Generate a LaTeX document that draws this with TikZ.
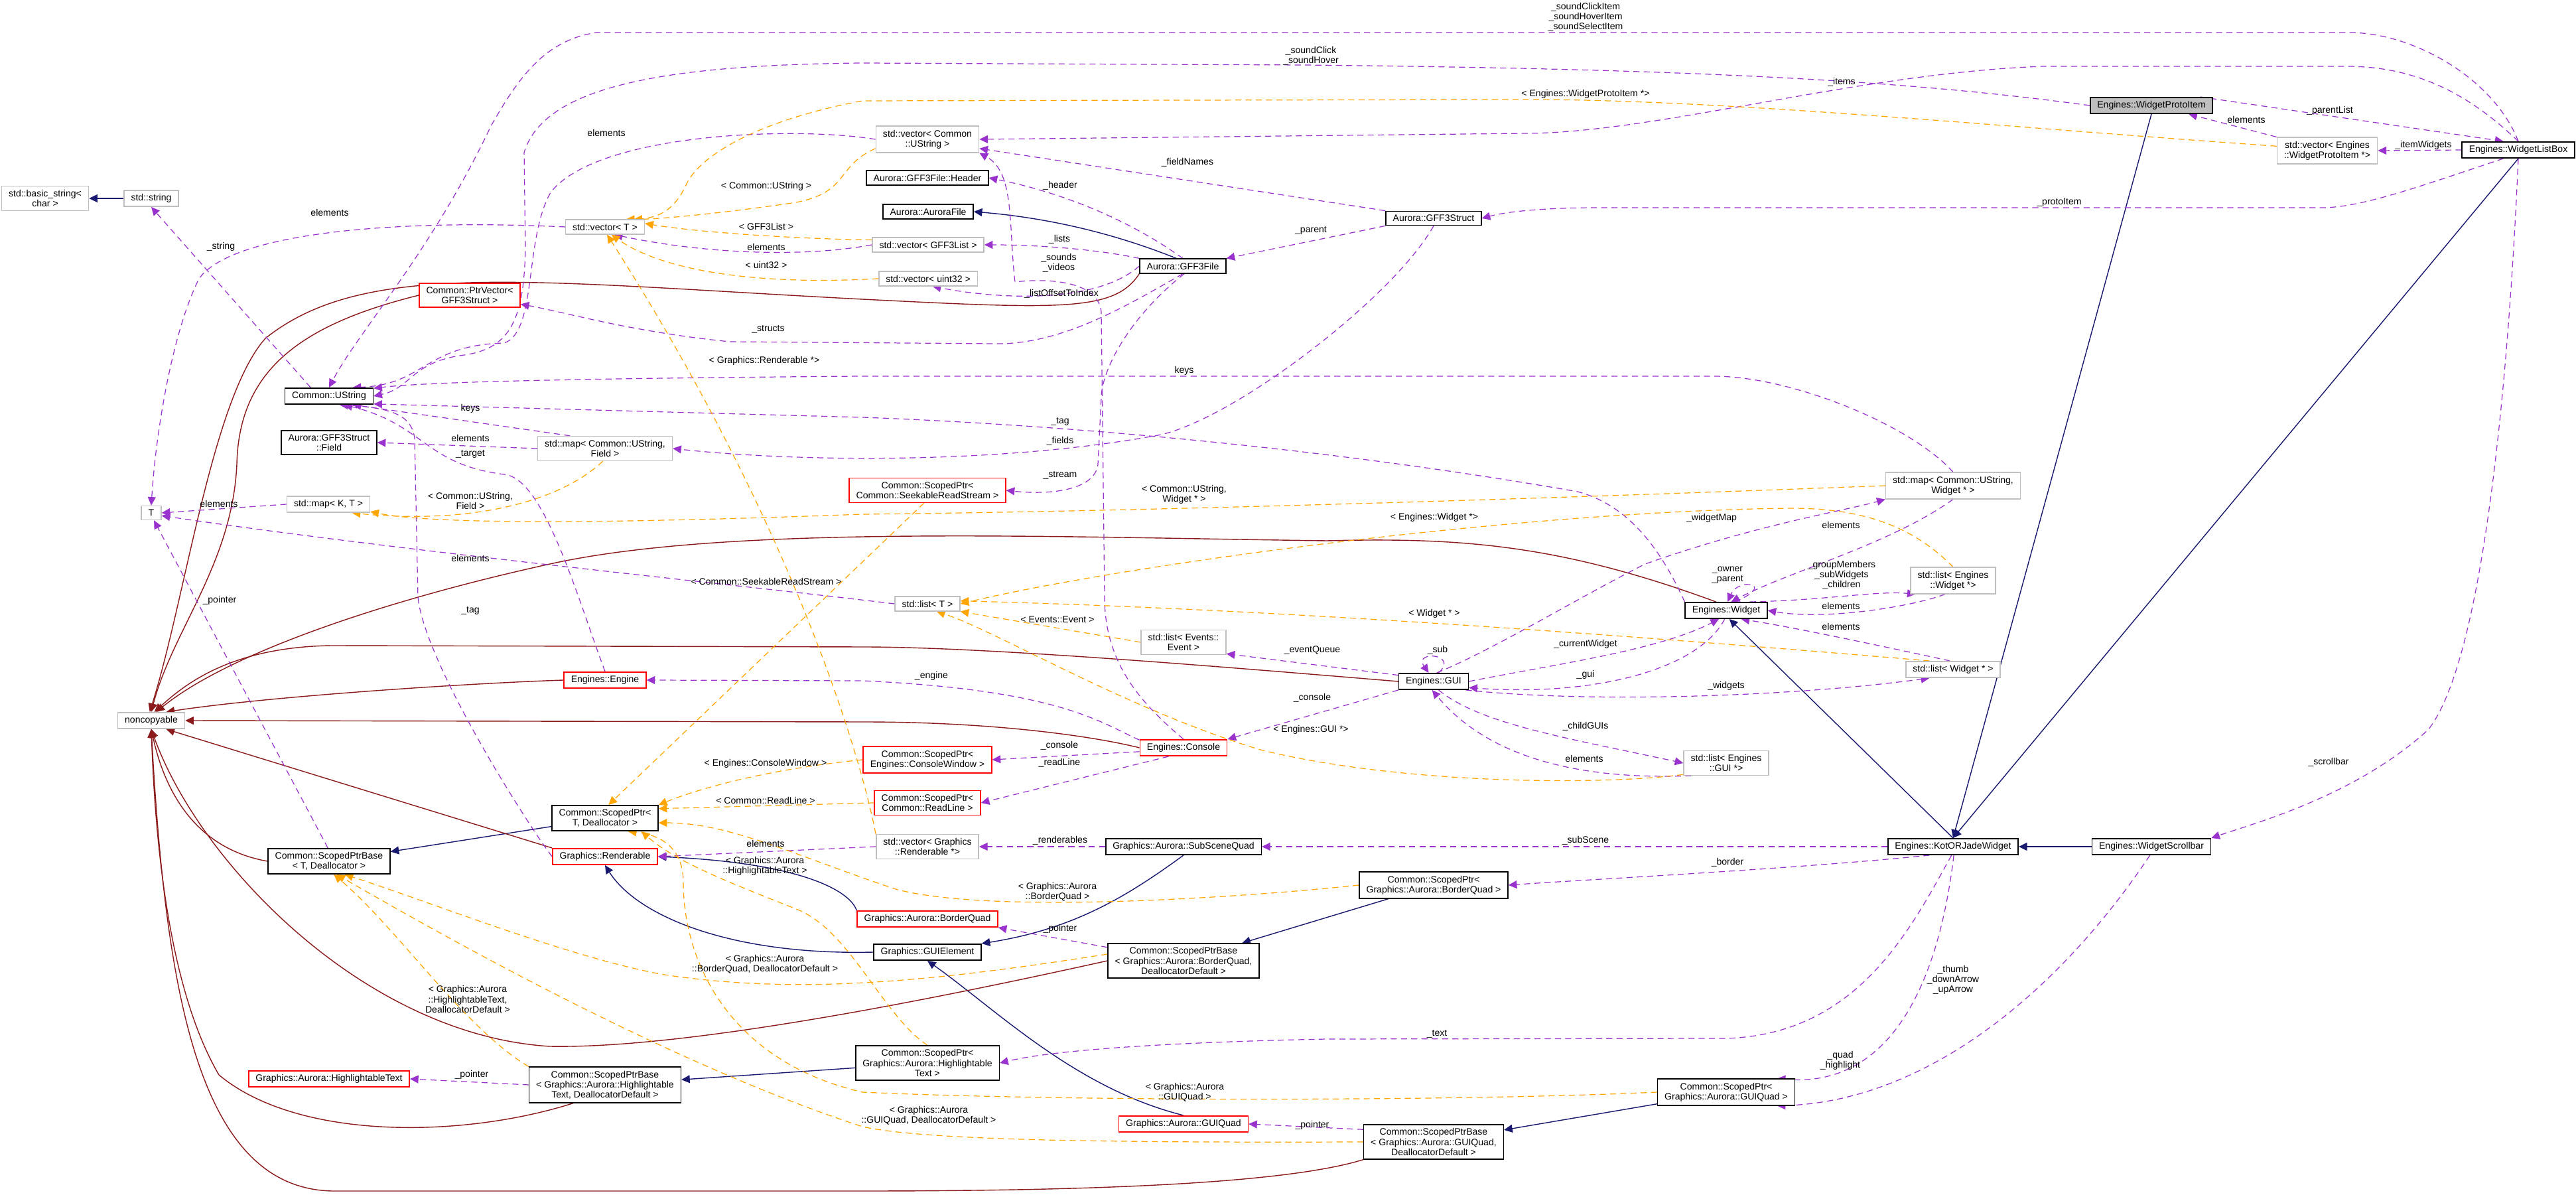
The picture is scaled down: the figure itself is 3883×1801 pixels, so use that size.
\documentclass[tikz,border=0pt]{standalone}
\usepackage{fontspec}
\setmainfont{Liberation Sans}
\usepackage{tikz}
\usetikzlibrary{arrows.meta}

\definecolor{memc}{HTML}{9A32CD}
\definecolor{tplc}{HTML}{FFA500}
\definecolor{ncpc}{HTML}{8B1A1A}
\definecolor{inhc}{HTML}{191970}
\definecolor{boxgray}{HTML}{BFBFBF}

\pgfdeclarelayer{background}
\pgfsetlayers{background,main}

\tikzset{
  box/.style={draw, line width=0.45pt, align=center, inner xsep=3pt, inner ysep=1.6pt, fill=white},
  cls/.style={box, draw=black},
  rcls/.style={box, draw=red},
  gcls/.style={box, draw=boxgray},
  tip/.style={-{Triangle[length=3.6pt,width=3.4pt]}},
  mem/.style={tip, draw=memc, line width=0.35pt, dash pattern=on 2.6pt off 1.8pt},
  tpl/.style={tip, draw=tplc, line width=0.35pt, dash pattern=on 2.6pt off 1.8pt},
  ncp/.style={tip, draw=ncpc, line width=0.4pt},
  inh/.style={tip, draw=inhc, line width=0.4pt},
  lbl/.style={inner sep=0pt, align=center}
}

\begin{document}
\begin{tikzpicture}[x=0.01cm, y=0.01cm, font=\fontsize{4}{4.3}\selectfont]
    \useasboundingbox (0,0) rectangle (3883,-1801);

    % Classes
    \node[gcls] (bstr) at (68,-299) {std::basic\_string\textless\\char \textgreater};
    \node[gcls] (sstr) at (228,-299) {std::string};
    \node[cls] (ustr) at (496,-597) {Common::UString};
    \node[gcls] (vect) at (912,-342) {std::vector\textless{} T \textgreater};
    \node[rcls] (ptrvec) at (708,-445) {Common::PtrVector\textless\\GFF3Struct \textgreater};
    \node[cls] (field) at (496,-667) {Aurora::GFF3Struct\\::Field};
    \node[gcls] (mapuf) at (912,-676) {std::map\textless{} Common::UString,\\Field \textgreater};
    \node[gcls] (mapkt) at (495,-760) {std::map\textless{} K, T \textgreater};
    \node[gcls] (tt) at (228,-773) {T};
    \node[rcls] (seekptr) at (1398,-739) {Common::ScopedPtr\textless\\Common::SeekableReadStream \textgreater};
    \node[gcls] (vecustr) at (1398,-210) {std::vector\textless{} Common\\::UString \textgreater};
    \node[cls] (header) at (1398,-268) {Aurora::GFF3File::Header};
    \node[cls] (aurfile) at (1399,-319) {Aurora::AuroraFile};
    \node[gcls] (veclist) at (1399,-369) {std::vector\textless{} GFF3List \textgreater};
    \node[gcls] (vecu32) at (1399,-420) {std::vector\textless{} uint32 \textgreater};
    \node[cls] (gfffile) at (1783,-401) {Aurora::GFF3File};
    \node[cls] (gffstruct) at (2161,-329) {Aurora::GFF3Struct};
    \node[cls, fill=boxgray] (protoitem) at (3243,-159) {Engines::WidgetProtoItem};
    \node[gcls] (vecproto) at (3508,-227) {std::vector\textless{} Engines\\::WidgetProtoItem *\textgreater};
    \node[cls] (listbox) at (3796,-226) {Engines::WidgetListBox};
    \node[gcls] (mapuw) at (2944,-732) {std::map\textless{} Common::UString,\\Widget * \textgreater};
    \node[gcls] (listew) at (2944,-875) {std::list\textless{} Engines\\::Widget *\textgreater};
    \node[gcls] (noncop) at (228,-1086) {noncopyable};
    \node[rcls] (engine) at (912,-1025) {Engines::Engine};
    \node[cls] (sptr) at (912,-1233) {Common::ScopedPtr\textless\\T, Deallocator \textgreater};
    \node[cls] (sptrbase) at (496,-1298) {Common::ScopedPtrBase\\\textless{} T, Deallocator \textgreater};
    \node[rcls] (rend) at (912,-1291) {Graphics::Renderable};
    \node[rcls] (hltext) at (496,-1626) {Graphics::Aurora::HighlightableText};
    \node[cls] (spbhl) at (912,-1635) {Common::ScopedPtrBase\\\textless{} Graphics::Aurora::Highlightable\\Text, DeallocatorDefault \textgreater};
    \node[gcls] (listt) at (1398,-910) {std::list\textless{} T \textgreater};
    \node[gcls] (listev) at (1784,-968) {std::list\textless{} Events::\\Event \textgreater};
    \node[cls] (gui) at (2161,-1027) {Engines::GUI};
    \node[cls] (widget) at (2602,-920) {Engines::Widget};
    \node[rcls] (console) at (1784,-1127) {Engines::Console};
    \node[rcls] (spcw) at (1398,-1145) {Common::ScopedPtr\textless\\Engines::ConsoleWindow \textgreater};
    \node[rcls] (sprl) at (1398,-1210) {Common::ScopedPtr\textless\\Common::ReadLine \textgreater};
    \node[gcls] (listgui) at (2602,-1150) {std::list\textless{} Engines\\::GUI *\textgreater};
    \node[gcls] (listw) at (2944,-1009) {std::list\textless{} Widget * \textgreater};
    \node[gcls] (vecrend) at (1398,-1276) {std::vector\textless{} Graphics\\::Renderable *\textgreater};
    \node[cls] (subscene) at (1784,-1276) {Graphics::Aurora::SubSceneQuad};
    \node[cls] (spbq) at (2161,-1334) {Common::ScopedPtr\textless\\Graphics::Aurora::BorderQuad \textgreater};
    \node[rcls] (bquad) at (1398,-1385) {Graphics::Aurora::BorderQuad};
    \node[cls] (guiel) at (1398,-1435) {Graphics::GUIElement};
    \node[cls] (spbbq) at (1784,-1448) {Common::ScopedPtrBase\\\textless{} Graphics::Aurora::BorderQuad,\\DeallocatorDefault \textgreater};
    \node[cls] (sphl) at (1398,-1602) {Common::ScopedPtr\textless\\Graphics::Aurora::Highlightable\\Text \textgreater};
    \node[rcls] (guiquad) at (1784,-1694) {Graphics::Aurora::GUIQuad};
    \node[cls] (spbgq) at (2161,-1721) {Common::ScopedPtrBase\\\textless{} Graphics::Aurora::GUIQuad,\\DeallocatorDefault \textgreater};
    \node[cls] (spgq) at (2602,-1646) {Common::ScopedPtr\textless\\Graphics::Aurora::GUIQuad \textgreater};
    \node[cls] (kjw) at (2944,-1276) {Engines::KotORJadeWidget};
    \node[cls] (scroll) at (3243,-1276) {Engines::WidgetScrollbar};

    \begin{pgfonlayer}{background}
    % Inheritance
    \draw[inh] (sstr) -- (bstr);
    \draw[inh] (gfffile.130) .. controls (1700,-360) and (1600,-330) .. (aurfile.east);
    \draw[inh] (sptr) -- (sptrbase);
    \draw[inh] (bquad.north west) .. controls (1280,-1340) and (1200,-1300) .. (rend.east);
    \draw[inh] (guiel.west) .. controls (1100,-1440) and (960,-1380) .. (rend.south);
    \draw[inh] (subscene.south) .. controls (1700,-1350) and (1620,-1400) .. (guiel.north east);
    \draw[inh] (spbq) -- (spbbq);
    \draw[inh] (guiquad.north) .. controls (1620,-1640) and (1500,-1520) .. (guiel.south);
    \draw[inh] (sphl) -- (spbhl);
    \draw[inh] (spgq) -- (spbgq);
    \draw[inh] (kjw.north) -- (widget.-70);
    \draw[inh] (protoitem.south) -- (kjw.north);
    \draw[inh] (listbox.south) -- (kjw.north);
    \draw[inh] (scroll) -- (kjw);

    % noncopyable
    \draw[ncp] (ptrvec.west) .. controls (450,-490) and (360,-560) .. (357,-700) .. controls (350,-850) and (260,-950) .. (noncop.north);
    \draw[ncp] (gfffile.south west) .. controls (1680,-470) and (1600,-466) .. (1300,-451) .. controls (800,-425) and (550,-390) .. (400,-510) .. controls (320,-600) and (280,-900) .. (noncop.100);
    \draw[ncp] (widget.140) .. controls (2350,-820) and (2200,-810) .. (2000,-815) .. controls (1600,-810) and (1100,-790) .. (829,-850) .. controls (600,-900) and (350,-980) .. (noncop.60);
    \draw[ncp] (gui.west) .. controls (1900,-1010) and (1500,-975) .. (1300,-975) -- (500,-973) .. controls (350,-975) and (280,-1030) .. (noncop.70);
    \draw[ncp] (engine.west) .. controls (700,-1030) and (400,-1050) .. (noncop.30);
    \draw[ncp] (console.west) .. controls (1650,-1110) and (1500,-1088) .. (1300,-1088) -- (noncop.east);
    \draw[ncp] (rend.north west) -- (noncop.-30);
    \draw[ncp] (sptrbase.west) .. controls (300,-1280) and (250,-1200) .. (noncop.south);
    \draw[ncp] (spbbq.west) .. controls (1300,-1530) and (1000,-1580) .. (829,-1577) .. controls (550,-1560) and (300,-1300) .. (noncop.south);
    \draw[ncp] (spbhl.-150) .. controls (700,-1715) and (450,-1720) .. (330,-1620) .. controls (260,-1500) and (235,-1300) .. (noncop.south);
    \draw[ncp] (spbgq.south west) .. controls (1950,-1780) and (1700,-1795) .. (1300,-1795) -- (500,-1795) .. controls (300,-1790) and (250,-1500) .. (noncop.south);

    % Members
    \draw[mem] (vect.west) .. controls (600,-330) and (350,-350) .. (300,-420) .. controls (260,-500) and (235,-650) .. (tt.north);
    \draw[mem] (ustr.155) -- (sstr.south);
    \draw[mem] (listbox.north) .. controls (3760,-120) and (3640,-49) .. (3540,-49) -- (900,-49) .. controls (820,-60) and (780,-120) .. (740,-190) .. controls (650,-380) and (540,-500) .. (ustr.north);
    \draw[mem] (protoitem.west) .. controls (2900,-125) and (2600,-104) .. (1963,-98) -- (1300,-95) .. controls (1000,-98) and (820,-130) .. (790,-230) -- (792,-373) .. controls (790,-480) and (770,-525) .. (700,-535) .. controls (620,-545) and (620,-585) .. (ustr.east);
    \draw[mem] (listbox.north) .. controls (3720,-140) and (3640,-100) .. (3537,-100) -- (3080,-100) .. controls (2800,-110) and (2500,-200) .. (2300,-201) -- (vecustr.east);
    \draw[mem] (vecustr.west) .. controls (1200,-190) and (900,-200) .. (830,-290) .. controls (790,-360) and (810,-500) .. (760,-517) .. controls (640,-520) and (640,-580) .. (ustr.20);
    \draw[mem] (gffstruct.north west) -- (vecustr.-10);
    \draw[mem] (gffstruct.south west) -- (gfffile.north east);
    \draw[mem] (gfffile.north) .. controls (1700,-330) and (1600,-290) .. (header.east);
    \draw[mem] (gfffile.north west) .. controls (1650,-375) and (1560,-369) .. (veclist.east);
    \draw[mem] (gfffile.west) .. controls (1650,-460) and (1500,-450) .. (vecu32.-60);
    \draw[mem] (console.north) .. controls (1720,-1060) and (1665,-1000) .. (1665,-900) -- (1660,-470) .. controls (1655,-420) and (1570,-420) .. (1530,-425) .. controls (1520,-340) and (1530,-260) .. (vecustr.south east);
    \draw[mem] (veclist.west) .. controls (1200,-390) and (1050,-380) .. (vect.-40);
    \draw[mem] (gfffile.south) .. controls (1700,-460) and (1600,-520) .. (1500,-518) -- (1100,-515) .. controls (950,-500) and (850,-470) .. (ptrvec.-10);
    \draw[mem] (widget.north west) .. controls (2500,-820) and (2450,-760) .. (2378,-741) .. controls (2000,-675) and (1600,-640) .. (1300,-629) -- (ustr.-10);
    \draw[mem] (mapuw.north) .. controls (2880,-640) and (2700,-567) .. (2583,-567) -- (1300,-567) .. controls (900,-570) and (650,-575) .. (ustr.10);
    \draw[mem] (gffstruct.south) .. controls (2100,-450) and (1850,-640) .. (1740,-657) .. controls (1500,-700) and (1200,-696) .. (mapuf.east);
    \draw[mem] (gfffile.-80) .. controls (1700,-480) and (1660,-560) .. (1660,-600) -- (1655,-700) .. controls (1650,-740) and (1580,-746) .. (seekptr.east);
    \draw[mem] (mapuf.160) -- (ustr.-20);
    \draw[mem] (mapuf.west) -- (field.east);
    \draw[mem] (engine.north) .. controls (870,-900) and (820,-720) .. (760,-715) .. controls (640,-700) and (640,-640) .. (ustr.-30);
    \draw[mem] (rend.west) .. controls (800,-1250) and (640,-1000) .. (630,-900) -- (625,-660) .. controls (620,-630) and (600,-615) .. (ustr.-40);
    \draw[mem] (mapkt.west) -- (tt.east);
    \draw[mem] (listt.west) .. controls (1100,-880) and (600,-830) .. (tt.-15);
    \draw[mem] (sptrbase.95) -- (tt.-70);
    \draw[mem] (gui.170) -- (listev.-15);
    \draw[mem] (gui.60) .. controls (2200,-985) and (2130,-980) .. (gui.120);
    \draw[mem] (gui.east) .. controls (2350,-1000) and (2500,-980) .. (widget.-130);
    \draw[mem] (widget.-100) .. controls (2560,-1010) and (2400,-1050) .. (gui.-10);
    \draw[mem] (gui.70) .. controls (2250,-980) and (2380,-900) .. (2480,-850) .. controls (2650,-790) and (2780,-770) .. (mapuw.south west);
    \draw[mem] (mapuw.south) .. controls (2850,-820) and (2700,-860) .. (widget.60);
    \draw[mem] (widget.45) .. controls (2680,-880) and (2620,-870) .. (widget.80);
    \draw[mem] (widget.20) .. controls (2750,-905) and (2830,-890) .. (listew.-160);
    \draw[mem] (listew.-120) .. controls (2880,-915) and (2750,-935) .. (widget.east);
    \draw[mem] (listw.110) .. controls (2820,-970) and (2700,-945) .. (widget.-30);
    \draw[mem] (gui.-15) .. controls (2400,-1060) and (2700,-1050) .. (listw.-160);
    \draw[mem] (gui.south west) -- (console.north east);
    \draw[mem] (console.170) .. controls (1660,-1090) and (1600,-1040) .. (1300,-1026) -- (engine.east);
    \draw[mem] (console.-175) -- (spcw.east);
    \draw[mem] (console.-150) -- (sprl.east);
    \draw[mem] (gui.-60) .. controls (2230,-1090) and (2350,-1110) .. (listgui.west);
    \draw[mem] (listgui.-160) .. controls (2400,-1175) and (2250,-1150) .. (gui.-100);
    \draw[mem] (kjw.west) -- (subscene.east);
    \draw[mem] (kjw.-160) .. controls (2700,-1310) and (2400,-1325) .. (spbq.east);
    \draw[mem] (kjw.-100) .. controls (2880,-1400) and (2800,-1560) .. (2600,-1565) -- (2000,-1566) .. controls (1800,-1570) and (1600,-1580) .. (sphl.east);
    \draw[mem] (kjw.-85) .. controls (2920,-1500) and (2840,-1640) .. (spgq.15);
    \draw[mem] (scroll.-100) .. controls (3100,-1500) and (2900,-1660) .. (spgq.-15);
    \draw[mem] (listbox.south) .. controls (3780,-600) and (3740,-1000) .. (3660,-1100) .. controls (3550,-1200) and (3400,-1240) .. (scroll.north east);
    \draw[mem] (subscene.west) -- (vecrend.east);
    \draw[mem] (vecrend.west) -- (rend.east);
    \draw[mem] (spbbq.170) -- (bquad.south east);
    \draw[mem] (spbgq.170) -- (guiquad.east);
    \draw[mem] (spbhl.west) -- (hltext.east);
    \draw[mem] (vecproto.north west) -- (protoitem.-13);
    \draw[mem] (protoitem.10) -- (listbox.150);
    \draw[mem] (listbox.west) -- (vecproto.east);
    \draw[mem] (listbox.-150) .. controls (3650,-280) and (3560,-313) .. (3500,-313) -- (2400,-313) .. controls (2300,-314) and (2260,-322) .. (gffstruct.east);

    % Templates
    \draw[tpl] (vecustr.-170) .. controls (1260,-250) and (1280,-290) .. (1200,-305) .. controls (1100,-320) and (1000,-330) .. (vect.15);
    \draw[tpl] (veclist.175) .. controls (1200,-360) and (1050,-350) .. (vect.5);
    \draw[tpl] (vecu32.west) .. controls (1150,-430) and (1000,-410) .. (vect.-50);
    \draw[tpl] (vecproto.175) .. controls (3000,-190) and (2600,-150) .. (2300,-150) -- (1300,-152) .. controls (1150,-180) and (1060,-230) .. (1036,-275) .. controls (1020,-310) and (1000,-330) .. (vect.20);
    \draw[tpl] (vecrend.north west) .. controls (1300,-1150) and (1200,-800) .. (vect.-75);
    \draw[tpl] (mapuf.-100) .. controls (840,-760) and (700,-790) .. (mapkt.-20);
    \draw[tpl] (mapuw.west) .. controls (2500,-745) and (1800,-770) .. (1300,-775) .. controls (900,-790) and (650,-790) .. (mapkt.-10);
    \draw[tpl] (listev.west) -- (listt.south east);
    \draw[tpl] (listew.north) .. controls (2890,-800) and (2820,-766) .. (2700,-766) .. controls (2300,-770) and (1700,-850) .. (listt.east);
    \draw[tpl] (listw.160) .. controls (2600,-970) and (2000,-920) .. (listt.5);
    \draw[tpl] (listgui.-165) .. controls (2400,-1185) and (2100,-1180) .. (1900,-1130) .. controls (1700,-1070) and (1500,-950) .. (listt.-40);
    \draw[tpl] (seekptr.-105) -- (sptr.75);
    \draw[tpl] (spcw.west) .. controls (1150,-1160) and (1050,-1190) .. (sptr.north east);
    \draw[tpl] (sprl.west) -- (sptr.10);
    \draw[tpl] (spbq.west) .. controls (1900,-1350) and (1500,-1380) .. (1350,-1340) .. controls (1200,-1290) and (1100,-1240) .. (sptr.-5);
    \draw[tpl] (sphl.north) .. controls (1330,-1530) and (1280,-1400) .. (1200,-1370) .. controls (1100,-1330) and (1020,-1300) .. (sptr.-20);
    \draw[tpl] (spgq.west) .. controls (2200,-1660) and (1600,-1660) .. (1300,-1646) .. controls (1100,-1600) and (1030,-1450) .. (1030,-1330) .. controls (1030,-1290) and (1010,-1260) .. (sptr.-30);
    \draw[tpl] (spbbq.175) .. controls (1400,-1480) and (1200,-1500) .. (995,-1468) .. controls (850,-1440) and (650,-1360) .. (sptrbase.-40);
    \draw[tpl] (spbhl.north west) .. controls (700,-1550) and (600,-1400) .. (sptrbase.-70);
    \draw[tpl] (spbgq.west) .. controls (1700,-1722) and (1400,-1720) .. (1300,-1698) .. controls (1000,-1600) and (650,-1400) .. (sptrbase.-60);
    \end{pgfonlayer}

    % Edge labels
    \node[lbl] (l1) at (497,-320) {elements};
    \node[lbl] (l2) at (333,-372) {\_string};
    \node[lbl] (l3) at (2390,-26) {\_soundClickItem\\\_soundHoverItem\\\_soundSelectItem};
    \node[lbl] (l4) at (1976,-84) {\_soundClick\\\_soundHover};
    \node[lbl] (l5) at (2776,-124) {\_items};
    \node[lbl] (l6) at (914,-200) {elements};
    \node[lbl] (l7) at (1790,-245) {\_fieldNames};
    \node[lbl] (l8) at (1598,-280) {\_header};
    \node[lbl] (l9) at (1597,-361) {\_lists};
    \node[lbl] (l10) at (1596,-396) {\_sounds\\\_videos};
    \node[lbl] (l11) at (1600,-443) {\_listOffsetToIndex};
    \node[lbl] (l12) at (1155,-281) {\textless{} Common::UString \textgreater};
    \node[lbl] (l13) at (1155,-341) {\textless{} GFF3List \textgreater};
    \node[lbl] (l14) at (1155,-372) {elements};
    \node[lbl] (l15) at (1155,-399) {\textless{} uint32 \textgreater};
    \node[lbl] (l16) at (1158,-496) {\_structs};
    \node[lbl] (l17) at (1152,-544) {\textless{} Graphics::Renderable *\textgreater};
    \node[lbl] (l18) at (2390,-142) {\textless{} Engines::WidgetProtoItem *\textgreater};
    \node[lbl] (l19) at (1976,-347) {\_parent};
    \node[lbl] (l20) at (3386,-180) {elements};
    \node[lbl] (l21) at (3512,-167) {\_parentList};
    \node[lbl] (l22) at (3653,-219) {\_itemWidgets};
    \node[lbl] (l23) at (3104,-305) {\_protoItem};
    \node[lbl] (l24) at (1785,-559) {keys};
    \node[lbl] (l25) at (709,-616) {keys};
    \node[lbl] (l26) at (709,-660) {elements};
    \node[lbl] (l27) at (709,-684) {\_target};
    \node[lbl] (l28) at (1598,-635) {\_tag};
    \node[lbl] (l29) at (1598,-665) {\_fields};
    \node[lbl] (l30) at (1598,-716) {\_stream};
    \node[lbl] (l31) at (709,-755) {\textless{} Common::UString,\\Field \textgreater};
    \node[lbl] (l32) at (330,-759) {elements};
    \node[lbl] (l33) at (709,-841) {elements};
    \node[lbl] (l34) at (1785,-745) {\textless{} Common::UString,\\Widget * \textgreater};
    \node[lbl] (l35) at (1155,-876) {\textless{} Common::SeekableReadStream \textgreater};
    \node[lbl] (l36) at (2162,-780) {\textless{} Engines::Widget *\textgreater};
    \node[lbl] (l37) at (2580,-781) {\_widgetMap};
    \node[lbl] (l38) at (2775,-791) {elements};
    \node[lbl] (l39) at (2604,-867) {\_owner\\\_parent};
    \node[lbl] (l40) at (2776,-867) {\_groupMembers\\\_subWidgets\\\_children};
    \node[lbl] (l41) at (331,-905) {\_pointer};
    \node[lbl] (l42) at (709,-920) {\_tag};
    \node[lbl] (l43) at (2162,-925) {\textless{} Widget * \textgreater};
    \node[lbl] (l44) at (1594,-934) {\textless{} Events::Event \textgreater};
    \node[lbl] (l45) at (2775,-913) {elements};
    \node[lbl] (l46) at (2775,-944) {elements};
    \node[lbl] (l47) at (2167,-980) {\_sub};
    \node[lbl] (l48) at (1978,-980) {\_eventQueue};
    \node[lbl] (l49) at (2390,-971) {\_currentWidget};
    \node[lbl] (l50) at (2390,-1017) {\_gui};
    \node[lbl] (l51) at (2602,-1034) {\_widgets};
    \node[lbl] (l52) at (1404,-1019) {\_engine};
    \node[lbl] (l53) at (1978,-1052) {\_console};
    \node[lbl] (l54) at (1976,-1100) {\textless{} Engines::GUI *\textgreater};
    \node[lbl] (l55) at (2390,-1095) {\_childGUIs};
    \node[lbl] (l56) at (2388,-1143) {elements};
    \node[lbl] (l57) at (1597,-1124) {\_console};
    \node[lbl] (l58) at (1597,-1150) {\_readLine};
    \node[lbl] (l59) at (1154,-1151) {\textless{} Engines::ConsoleWindow \textgreater};
    \node[lbl] (l60) at (1154,-1206) {\textless{} Common::ReadLine \textgreater};
    \node[lbl] (l61) at (1154,-1271) {elements};
    \node[lbl] (l62) at (1153,-1305) {\textless{} Graphics::Aurora\\::HighlightableText \textgreater};
    \node[lbl] (l63) at (1598,-1267) {\_renderables};
    \node[lbl] (l64) at (2390,-1267) {\_subScene};
    \node[lbl] (l65) at (2604,-1300) {\_border};
    \node[lbl] (l66) at (1594,-1344) {\textless{} Graphics::Aurora\\::BorderQuad \textgreater};
    \node[lbl] (l67) at (1598,-1400) {\_pointer};
    \node[lbl] (l68) at (1153,-1453) {\textless{} Graphics::Aurora\\::BorderQuad, DeallocatorDefault \textgreater};
    \node[lbl] (l69) at (3510,-1149) {\_scrollbar};
    \node[lbl] (l70) at (2944,-1477) {\_thumb\\\_downArrow\\\_upArrow};
    \node[lbl] (l71) at (705,-1506) {\textless{} Graphics::Aurora\\::HighlightableText,\\DeallocatorDefault \textgreater};
    \node[lbl] (l72) at (2166,-1558) {\_text};
    \node[lbl] (l73) at (711,-1620) {\_pointer};
    \node[lbl] (l74) at (2774,-1598) {\_quad\\\_highlight};
    \node[lbl] (l75) at (1786,-1646) {\textless{} Graphics::Aurora\\::GUIQuad \textgreater};
    \node[lbl] (l76) at (1400,-1681) {\textless{} Graphics::Aurora\\::GUIQuad, DeallocatorDefault \textgreater};
    \node[lbl] (l77) at (1978,-1696) {\_pointer};
\end{tikzpicture}
\end{document}
